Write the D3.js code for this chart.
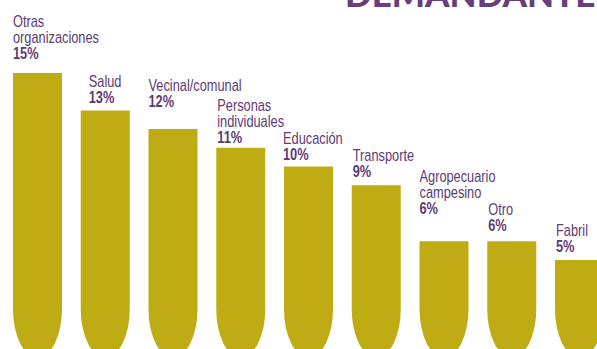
<!DOCTYPE html>
<html><head><meta charset="utf-8">
<script src="https://cdn.jsdelivr.net/npm/d3@7"></script>
<style>
html,body{margin:0;padding:0;background:#fff;overflow:hidden;}
svg{display:block;}
</style></head>
<body>
<svg id="chart" width="597" height="349"></svg>
<script>
// ---- data ----
const categories = [
  ["Otras", "organizaciones"],
  ["Salud"],
  ["Vecinal/comunal"],
  ["Personas", "individuales"],
  ["Educación"],
  ["Transporte"],
  ["Agropecuario", "campesino"],
  ["Otro"],
  ["Fabril"]
];
const values = [15, 13, 12, 11, 10, 9, 6, 6, 5];
const valueLabels = ["15%", "13%", "12%", "11%", "10%", "9%", "6%", "6%", "5%"];
const title = "DEMANDANTE";

// ---- layout (label gap above bar top, horizontal nudge) ----
const labelGap = [14, 7, 22, 5, 7, 8, 27, 10, 8];
const labelShift = [0, 8, 0, 1, -1, 1, 0, 1, 1];

const barColor = "#BFAB14";
const textColor = "#5E3B73";
const titleColor = "#6A3E7C";
const font = "'Liberation Sans', Arial, sans-serif";

const svg = d3.select("#chart");
const idx = d3.range(values.length);

const x = d3.scaleBand().domain(idx).range([13, 604]).paddingInner(0.277).paddingOuter(0);
const y = d3.scaleLinear().domain([0, 15]).range([353.5, 73]);

const ry = 48;
const bottom = y(0) + 4;

svg.selectAll("path.bar").data(idx).enter().append("path")
  .attr("class", "bar")
  .attr("fill", barColor)
  .attr("d", i => {
    const x0 = x(i), x1 = x(i) + x.bandwidth(), rx = x.bandwidth() / 2;
    return `M${x0},${y(values[i])}H${x1}V${bottom - ry}A${rx},${ry} 0 0 1 ${x0},${bottom - ry}Z`;
  });

const g = svg.selectAll("g.lbl").data(idx).enter().append("g")
  .attr("class", "lbl")
  .attr("transform", i => `translate(${x(i) + labelShift[i]},${y(values[i]) - labelGap[i]}) scale(0.8,1)`);

g.append("text")
  .attr("font-family", font)
  .attr("font-weight", 700)
  .attr("font-size", 16)
  .attr("fill", textColor)
  .text(i => valueLabels[i]);

g.each(function(i) {
  const lines = categories[i];
  const sel = d3.select(this);
  lines.forEach((ln, k) => {
    sel.append("text")
      .attr("y", -16 * (lines.length - k))
      .attr("font-family", font)
      .attr("font-weight", 400)
      .attr("font-size", 16)
      .attr("fill", textColor)
      .text(ln);
  });
});

svg.append("text")
  .attr("x", 345)
  .attr("y", 7)
  .attr("font-family", "Lato, 'Open Sans', sans-serif")
  .attr("font-weight", 900)
  .attr("font-size", 35)
  .attr("fill", titleColor)
  .text(title);
</script>
</body></html>
